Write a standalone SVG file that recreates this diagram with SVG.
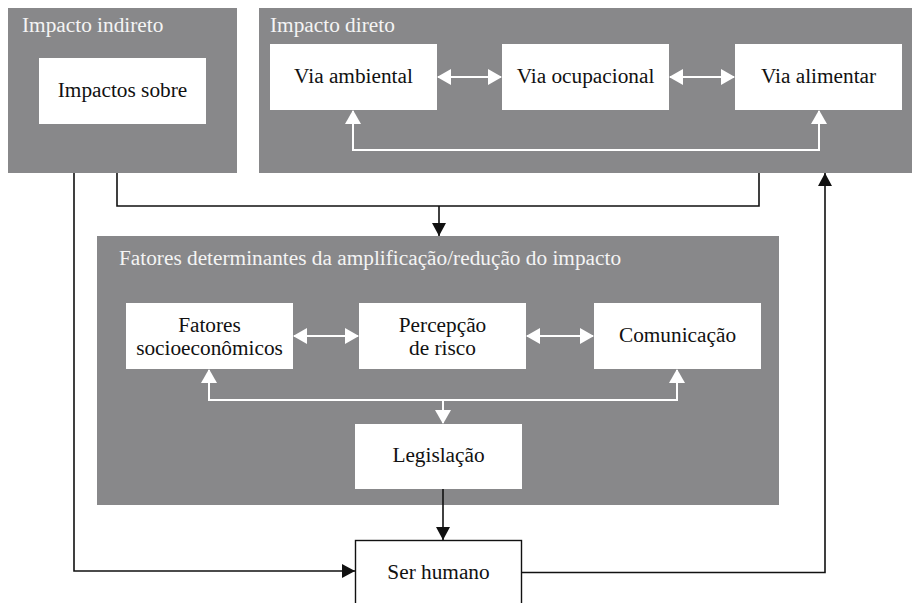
<svg xmlns="http://www.w3.org/2000/svg" width="914" height="603" viewBox="0 0 914 603">
<style>
.panel{fill:#88888a}
.box{fill:#ffffff}
text{font-family:'Liberation Serif','Times New Roman',Tinos,'DejaVu Serif',serif;font-size:21.3px}
.t{fill:#111}
.tt{fill:#f4f4f4}
.wl{fill:none;stroke:#ffffff;stroke-width:2}
.bl{fill:none;stroke:#111;stroke-width:1.6}
</style>
<defs>
<marker id="wa" markerUnits="userSpaceOnUse" markerWidth="14" markerHeight="16" viewBox="0 0 14 16" refX="13" refY="8" orient="auto-start-reverse">
<polygon points="0,0 14,8 0,16" fill="#ffffff"/>
</marker>
<marker id="ba" markerUnits="userSpaceOnUse" markerWidth="13" markerHeight="14" viewBox="0 0 13 14" refX="13" refY="7" orient="auto">
<polygon points="0,0 13,7 0,14" fill="#111"/>
</marker>
</defs>
<rect width="914" height="603" fill="#ffffff"/>

<g id="panel-indireto">
<rect class="panel" x="8" y="8" width="229" height="165"/>
<text class="tt" x="22" y="32">Impacto indireto</text>
</g>
<g id="panel-direto">
<rect class="panel" x="259" y="8" width="653" height="165"/>
<text class="tt" x="270" y="32">Impacto direto</text>
</g>
<g id="panel-fatores">
<rect class="panel" x="97" y="236" width="682" height="269"/>
<text class="tt" x="119" y="265">Fatores determinantes da amplificação/redução do impacto</text>
</g>

<g id="node-impactos-sobre">
<rect class="box" x="39" y="58" width="167" height="66"/>
<text class="t" x="122.5" y="97" text-anchor="middle">Impactos sobre</text>
</g>
<g id="node-via-ambiental">
<rect class="box" x="270" y="44" width="167" height="66"/>
<text class="t" x="353.5" y="83" text-anchor="middle">Via ambiental</text>
</g>
<g id="node-via-ocupacional">
<rect class="box" x="502" y="44" width="167" height="66"/>
<text class="t" x="585.5" y="83" text-anchor="middle">Via ocupacional</text>
</g>
<g id="node-via-alimentar">
<rect class="box" x="735" y="44" width="167" height="66"/>
<text class="t" x="818.5" y="83" text-anchor="middle">Via alimentar</text>
</g>
<g id="node-fatores-socio">
<rect class="box" x="126" y="303" width="167" height="66"/>
<text class="t" x="209.5" y="332" text-anchor="middle">Fatores</text>
<text class="t" x="209.5" y="355" text-anchor="middle">socioeconômicos</text>
</g>
<g id="node-percepcao">
<rect class="box" x="359" y="303" width="167" height="66"/>
<text class="t" x="442.5" y="332" text-anchor="middle">Percepção</text>
<text class="t" x="442.5" y="355" text-anchor="middle">de risco</text>
</g>
<g id="node-comunicacao">
<rect class="box" x="594" y="303" width="167" height="66"/>
<text class="t" x="677.5" y="342" text-anchor="middle">Comunicação</text>
</g>
<g id="node-legislacao">
<rect class="box" x="355" y="424" width="167" height="65"/>
<text class="t" x="438.5" y="462" text-anchor="middle">Legislação</text>
</g>
<g id="node-ser-humano">
<rect x="355.5" y="540.5" width="166" height="70" fill="#ffffff" stroke="#111" stroke-width="1.4"/>
<text class="t" x="438.5" y="579" text-anchor="middle">Ser humano</text>
</g>

<g id="connectors">
<line class="wl" x1="438" y1="77" x2="501" y2="77" marker-start="url(#wa)" marker-end="url(#wa)"/>
<line class="wl" x1="670" y1="77" x2="734" y2="77" marker-start="url(#wa)" marker-end="url(#wa)"/>
<polyline class="wl" points="353,111 353,150 819,150 819,111" marker-start="url(#wa)" marker-end="url(#wa)"/>
<line class="wl" x1="294" y1="336" x2="358" y2="336" marker-start="url(#wa)" marker-end="url(#wa)"/>
<line class="wl" x1="527" y1="336" x2="593" y2="336" marker-start="url(#wa)" marker-end="url(#wa)"/>
<polyline class="wl" points="209,370 209,400 677,400 677,370" marker-start="url(#wa)" marker-end="url(#wa)"/>
<line class="wl" x1="443" y1="400" x2="443" y2="423" marker-end="url(#wa)"/>

<polyline class="bl" points="117,173 117,206 759,206 759,173"/>
<line class="bl" x1="439" y1="206" x2="439" y2="236" marker-end="url(#ba)"/>
<line class="bl" x1="443" y1="489" x2="443" y2="540" marker-end="url(#ba)"/>
<polyline class="bl" points="74,173 74,571 355,571" marker-end="url(#ba)"/>
<polyline class="bl" points="522,572.5 825,572.5 825,173" marker-end="url(#ba)"/>
</g>
</svg>
